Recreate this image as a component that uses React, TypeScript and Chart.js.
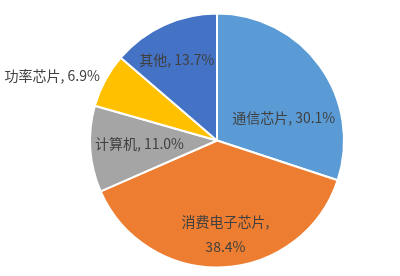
import React, { useEffect, useRef } from "react";
import { Chart, registerables } from "chart.js";

Chart.register(...registerables);

const categories = ["通信芯片", "消费电子芯片", "计算机", "功率芯片", "其他"];
const values = [30.1, 38.4, 11.0, 6.9, 13.7];
const valueLabels = ["30.1%", "38.4%", "11.0%", "6.9%", "13.7%"];
const colors = ["#5B9BD5", "#ED7D31", "#A5A5A5", "#FFC000", "#4472C4"];
// label placement: fraction of radius along arc mid-angle, plus nudges
const labelRadius = [0.58, 0.74, 0.62, 1.25, 0.72];
const labelNudgeX = [7, 4, 1, -25, -2];
const labelNudgeY = [20, 0, -2, 11, 2];
const labelLines: string[][] = [
  ["通信芯片, " + valueLabels[0]],
  ["消费电子芯片,", valueLabels[1]],
  ["计算机, " + valueLabels[2]],
  ["功率芯片, " + valueLabels[3]],
  ["其他, " + valueLabels[4]],
];

const labelPlugin = {
  id: "sliceLabels",
  afterDatasetsDraw(chart: any) {
    const ctx = chart.ctx;
    const meta = chart.getDatasetMeta(0);
    ctx.save();
    ctx.font = '14px "Noto Sans CJK SC", "Noto Sans", sans-serif';
    ctx.fillStyle = "#404040";
    ctx.textAlign = "center";
    ctx.textBaseline = "middle";
    meta.data.forEach((arc: any, i: number) => {
      const p = arc.getProps(["x", "y", "startAngle", "endAngle", "outerRadius"], true);
      const mid = (p.startAngle + p.endAngle) / 2;
      const r = p.outerRadius * labelRadius[i];
      const cx = p.x + Math.cos(mid) * r + labelNudgeX[i];
      const cy = p.y + Math.sin(mid) * r + labelNudgeY[i];
      const lines = labelLines[i];
      const lh = 25;
      lines.forEach((line, k) => {
        ctx.fillText(line, cx, cy + (k - (lines.length - 1) / 2) * lh);
      });
    });
    ctx.restore();
  },
};

export default function App() {
  const ref = useRef<HTMLCanvasElement>(null);
  useEffect(() => {
    if (!ref.current) return;
    const chart = new Chart(ref.current, {
      type: "pie",
      data: {
        labels: categories,
        datasets: [
          {
            data: values,
            backgroundColor: colors,
            borderColor: "#ffffff",
            borderWidth: 2,
          },
        ],
      },
      options: {
        animation: false,
        responsive: false,
        layout: { padding: { top: 12, bottom: 7, left: 89, right: 55 } },
        plugins: {
          legend: { display: false },
          tooltip: { enabled: false },
        },
      },
      plugins: [labelPlugin],
    });
    return () => chart.destroy();
  }, []);
  return (
    <div style={{ position: "absolute", left: 0, top: 0, width: 400, height: 276, background: "#fff" }}>
      <canvas ref={ref} width={400} height={276} />
    </div>
  );
}
